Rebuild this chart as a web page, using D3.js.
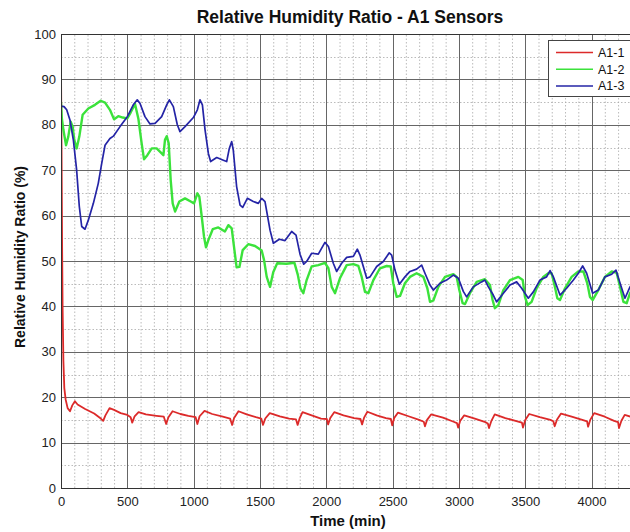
<!DOCTYPE html>
<html>
<head>
<meta charset="utf-8">
<script src="https://cdn.jsdelivr.net/npm/d3@7"></script>
<style>
    body { margin: 0; background: white; }
    svg { display: block; font-family: "Liberation Sans", Arial, Helvetica, sans-serif; }
</style>
</head>
<body>
<div id="data-vis"></div>
<script>
//DATA (time in min, relative humidity ratio in %)
const seriesNames = ["A1-1", "A1-2", "A1-3"];
const seriesColours = ["#dc2a2a", "#3be23b", "#2424a6"];

const xTicks = [0, 500, 1000, 1500, 2000, 2500, 3000, 3500, 4000];
const yTicks = [0, 10, 20, 30, 40, 50, 60, 70, 80, 90, 100];

const sensorA1_1 = [[0,93],[4,75],[8,55],[12,40],[18,28],[25,22],[35,19.5],[50,17.6],[68,16.9],[85,18.2],[105,19.1],[125,18.4],
    [182,17.4],[250,16.4],[300,15.3],[318,14.8],[335,16],[366,17.6],[400,17.2],[450,16.5],[500,16.1],[525,15.6],[537,14.4],
    [555,15.8],[585,16.7],[640,16.2],[720,15.9],[775,15.7],[793,14.1],[810,15.6],[841,16.9],[900,16.3],[960,15.9],[1015,15.6],
    [1028,14.1],[1045,15.8],[1082,17],[1140,16.3],[1220,15.7],[1275,15.3],[1290,13.9],[1305,15.4],[1338,16.9],[1400,16.2],
    [1470,15.6],[1510,15.3],[1523,13.9],[1540,15.3],[1574,16.5],[1650,15.8],[1720,15.3],[1772,15.1],[1784,13.9],[1800,15.4],
    [1821,16.7],[1890,16],[1960,15.3],[2004,15.2],[2014,14],[2030,15.4],[2060,16.7],[2130,16],[2210,15.4],[2258,15.2],[2270,14],
    [2285,15.5],[2310,16.8],[2380,16],[2450,15.4],[2487,15.2],[2497,13.8],[2512,15.4],[2540,16.6],[2620,15.8],[2700,15],
    [2735,14.6],[2744,13.6],[2760,15],[2790,16.2],[2880,15.5],[2960,14.6],[2985,14.3],[2994,13.3],[3010,14.8],[3040,16],
    [3120,15.3],[3200,14.5],[3218,14.2],[3227,13.2],[3245,14.8],[3270,16.2],[3350,15.4],[3440,14.7],[3475,14.4],[3483,13.3],
    [3500,15],[3530,16.3],[3610,15.6],[3690,15],[3712,14.7],[3722,13.6],[3740,15.1],[3770,16.4],[3850,15.7],[3930,15],
    [3966,14.7],[3974,13.5],[3990,15],[4020,16.5],[4100,15.7],[4170,14.8],[4200,14.5],[4207,13.2],[4225,14.8],[4250,16.1],
    [4320,15.5]];

const sensorA1_2 = [[0,85],[6,81.5],[18,78.9],[38,75.5],[55,77.4],[73,80.7],[88,79.6],[100,76.7],[118,74.8],[138,77.4],
    [163,82.2],[206,83.6],[256,84.4],[299,85.3],[332,84.9],[369,83.3],[400,81.2],[432,81.9],[465,81.6],[500,81.4],[525,82.7],
    [558,84.6],[583,81.4],[608,75.9],[626,72.4],[651,73.3],[684,74.8],[721,74.8],[759,73.7],[772,73.3],[784,76.7],[797,77.5],
    [812,75.9],[827,67.8],[842,62.7],[860,60.9],[892,63.1],[935,63.8],[978,63.1],[1003,62.7],[1028,64.9],[1043,64.2],
    [1061,59.8],[1078,55.4],[1093,53],[1111,54.6],[1144,57],[1186,57.4],[1236,56.5],[1262,57.9],[1287,57.2],[1304,53.2],
    [1324,48.6],[1345,48.7],[1370,52.4],[1412,53.7],[1463,53.3],[1513,52.3],[1531,50.2],[1551,46.5],[1576,44.3],[1600,47.5],
    [1630,49.5],[1700,49.4],[1760,49.6],[1785,47],[1805,44],[1827,42.9],[1852,45.8],[1890,48.8],[1940,49.1],[1990,49.6],
    [2016,48.4],[2041,44.3],[2066,42.9],[2103,46.2],[2154,49.1],[2204,49.3],[2242,48.9],[2267,46.5],[2292,43.2],[2317,42.9],
    [2355,45.8],[2405,48.4],[2455,48.9],[2486,48.8],[2505,45.1],[2531,42.1],[2556,42.3],[2593,45.1],[2631,46.5],[2681,47.3],
    [2732,46.5],[2762,44],[2782,41],[2807,41.3],[2845,44.3],[2895,46.5],[2958,47.1],[2983,46.5],[3003,43.6],[3028,40.7],
    [3046,40.5],[3083,42.9],[3134,45.4],[3196,46],[3234,44.7],[3254,41.4],[3271,39.6],[3297,40.3],[3335,43.6],[3385,45.8],
    [3448,46.5],[3481,45.8],[3498,42.1],[3518,40.3],[3548,41],[3586,44],[3636,46.5],[3674,47.3],[3699,47.3],[3724,44.3],
    [3742,41.8],[3762,41.4],[3800,44],[3850,46.5],[3900,47.7],[3938,47.7],[3968,45.1],[3988,42.1],[4008,41.4],[4051,43.6],
    [4101,46.5],[4152,47.7],[4189,47.4],[4215,44.3],[4240,41],[4265,40.7],[4290,42.9],[4320,44.5]];

const sensorA1_3 = [[0,84.1],[23,84.0],[43,83.3],[68,81],[93,76.7],[118,70],[138,62],[156,57.6],[181,57],[206,59],[244,62.7],
    [281,67.1],[307,71.5],[332,75.5],[369,77],[395,77.5],[445,79.6],[500,81.8],[545,84.4],[575,85.5],[596,84.7],[633,81.8],
    [671,80.2],[709,80.3],[759,81.8],[797,84.4],[817,85.5],[847,84],[877,80],[897,78.5],[935,79.6],[998,81.6],[1028,83.3],
    [1048,85.5],[1066,84.4],[1086,78.9],[1111,73.7],[1128,71.9],[1174,72.8],[1224,72.2],[1249,71.9],[1269,74.8],[1287,76.3],
    [1299,74.4],[1324,66.4],[1350,62.3],[1370,61.8],[1405,63.8],[1450,63.1],[1488,62.7],[1513,63.8],[1538,63.1],[1576,56.8],
    [1601,53.9],[1646,54.8],[1689,54.5],[1739,56.5],[1772,55.7],[1802,51.5],[1830,49.3],[1852,49.9],[1890,51.7],[1940,51.5],
    [1990,54.1],[2016,53.2],[2053,49.5],[2078,47.7],[2116,49.5],[2154,50.8],[2204,51],[2234,52.6],[2254,51.3],[2305,46.2],
    [2330,46.5],[2380,48.8],[2430,49.9],[2475,51.8],[2493,51.3],[2518,48],[2551,44.9],[2593,46.5],[2631,47.7],[2681,48.2],
    [2719,49.1],[2744,47.3],[2782,44.7],[2807,43.6],[2857,45.1],[2907,45.8],[2958,46.9],[2996,46.2],[3033,43.3],[3058,42.1],
    [3108,44.3],[3171,45.4],[3196,45.8],[3222,44.3],[3259,42.5],[3284,41],[3335,42.9],[3385,44.7],[3435,45.4],[3473,44],
    [3523,41.8],[3561,43.2],[3611,45.8],[3661,46.5],[3687,47.9],[3712,46.5],[3762,42.5],[3812,44],[3863,45.8],[3900,47.3],
    [3933,48.9],[3963,47.3],[4008,42.9],[4051,43.6],[4101,46.5],[4152,47.1],[4184,48],[4215,45.1],[4252,41.8],[4290,44.3],
    [4320,45.5]];

const allSeries = [sensorA1_1, sensorA1_2, sensorA1_3];
const strokeWidths = [1.8, 2.4, 1.7];

//SCRIPT PROPERTIES
let w = 630;
let h = 532;
const margin = {top: 34, left: 61};
const plotW = 573; //axes run past the right edge of the picture
const plotH = 454;

function geoChart() {
    let svg = d3.select("#data-vis")
                .append("svg")
                .attr("width", w)
                .attr("height", h)
                .style("background-color", "white");

    //Scales
    let x = d3.scaleLinear().domain([0, 4320]).range([margin.left, margin.left + plotW]);
    let y = d3.scaleLinear().domain([0, 100]).range([margin.top + plotH, margin.top]);

    //Minor grid (dotted)
    let minorX = d3.range(100, 4320, 100).filter(d => d % 500 != 0);
    let minorY = d3.range(5, 100, 10);

    let grid = svg.append("g").attr("class", "grid");
    grid.selectAll(".minor-x")
        .data(minorX)
        .enter()
        .append("line")
        .attr("x1", d => x(d) + 0.5).attr("x2", d => x(d) + 0.5)
        .attr("y1", y(0)).attr("y2", y(100))
        .attr("stroke", "#aaa")
        .attr("stroke-width", 0.8)
        .attr("stroke-dasharray", "1.5,2");

    grid.selectAll(".minor-y")
        .data(minorY)
        .enter()
        .append("line")
        .attr("x1", x(0)).attr("x2", x(4320))
        .attr("y1", d => Math.round(y(d)) + 0.5).attr("y2", d => Math.round(y(d)) + 0.5)
        .attr("stroke", "#aaa")
        .attr("stroke-width", 0.8)
        .attr("stroke-dasharray", "1.5,2");

    //Major grid (solid)
    grid.selectAll(".major-x")
        .data(xTicks.filter(d => d > 0 && d < 4320))
        .enter()
        .append("line")
        .attr("x1", d => Math.round(x(d)) + 0.5).attr("x2", d => Math.round(x(d)) + 0.5)
        .attr("y1", y(0)).attr("y2", y(100))
        .attr("stroke", "#666")
        .attr("stroke-width", 1);

    grid.selectAll(".major-y")
        .data(yTicks.filter(d => d > 0 && d < 100))
        .enter()
        .append("line")
        .attr("x1", x(0)).attr("x2", x(4320))
        .attr("y1", d => Math.round(y(d)) + 0.5).attr("y2", d => Math.round(y(d)) + 0.5)
        .attr("stroke", "#666")
        .attr("stroke-width", 1);

    //Clip lines to the axes
    svg.append("clipPath").attr("id", "plot-clip")
        .append("rect")
        .attr("x", x(0)).attr("y", y(100))
        .attr("width", plotW).attr("height", plotH);

    let line = d3.line()
                .x(d => x(d[0]))
                .y(d => y(d[1]));

    svg.append("g")
        .attr("clip-path", "url(#plot-clip)")
        .selectAll("path")
        .data(allSeries)
        .enter()
        .append("path")
        .attr("d", line)
        .attr("fill", "none")
        .attr("stroke", (d, i) => seriesColours[i])
        .attr("stroke-width", (d, i) => strokeWidths[i])
        .attr("stroke-linejoin", "round");

    //Axes
    let xAxis = d3.axisBottom(x).tickValues(xTicks).tickFormat(d3.format("d")).tickSize(0).tickPadding(9);
    let yAxis = d3.axisLeft(y).tickValues(yTicks).tickFormat(d3.format("d")).tickSize(0).tickPadding(5);

    svg.append("g")
        .attr("transform", "translate(0," + y(0) + ")")
        .call(xAxis)
        .call(g => g.select(".domain").remove())
        .selectAll("text")
        .attr("font-size", 13)
        .attr("font-family", "Liberation Sans, Arial, sans-serif")
        .attr("fill", "#222");

    svg.append("g")
        .attr("transform", "translate(" + x(0) + ",0)")
        .call(yAxis)
        .call(g => g.select(".domain").remove())
        .selectAll("text")
        .attr("font-size", 13)
        .attr("font-family", "Liberation Sans, Arial, sans-serif")
        .attr("fill", "#222");

    //Axes box
    svg.append("rect")
        .attr("x", x(0) + 0.5).attr("y", y(100) + 0.5)
        .attr("width", plotW).attr("height", plotH)
        .attr("fill", "none")
        .attr("stroke", "#333")
        .attr("stroke-width", 1);

    //Title and labels
    svg.append("text")
        .attr("x", 350).attr("y", 23)
        .attr("text-anchor", "middle")
        .attr("font-size", 17.5)
        .attr("font-weight", "bold")
        .attr("fill", "#111")
        .text("Relative Humidity Ratio - A1 Sensors");

    svg.append("text")
        .attr("x", 348).attr("y", 526)
        .attr("text-anchor", "middle")
        .attr("font-size", 15)
        .attr("font-weight", "bold")
        .attr("fill", "#111")
        .text("Time (min)");

    svg.append("text")
        .attr("transform", "translate(25," + 257 + ") rotate(-90)")
        .attr("text-anchor", "middle")
        .attr("font-size", 14)
        .attr("font-weight", "bold")
        .attr("fill", "#111")
        .text("Relative Humidity Ratio (%)");

    //Legend
    let legend = svg.append("g").attr("class", "legend");
    legend.append("rect")
        .attr("x", 548.5).attr("y", 40.5)
        .attr("width", 84).attr("height", 56)
        .attr("fill", "white")
        .attr("stroke", "#444")
        .attr("stroke-width", 1);

    let items = legend.selectAll(".item")
        .data(seriesNames)
        .enter()
        .append("g")
        .attr("transform", (d, i) => "translate(0," + (52.5 + i * 16.7) + ")");

    items.append("line")
        .attr("x1", 556).attr("x2", 593)
        .attr("stroke", (d, i) => seriesColours[i])
        .attr("stroke-width", 1.5);

    items.append("text")
        .attr("x", 598).attr("y", 4.5)
        .attr("font-size", 12.5)
        .attr("fill", "#111")
        .text(d => d);
}

window.onload = geoChart;
</script>
</body>
</html>
